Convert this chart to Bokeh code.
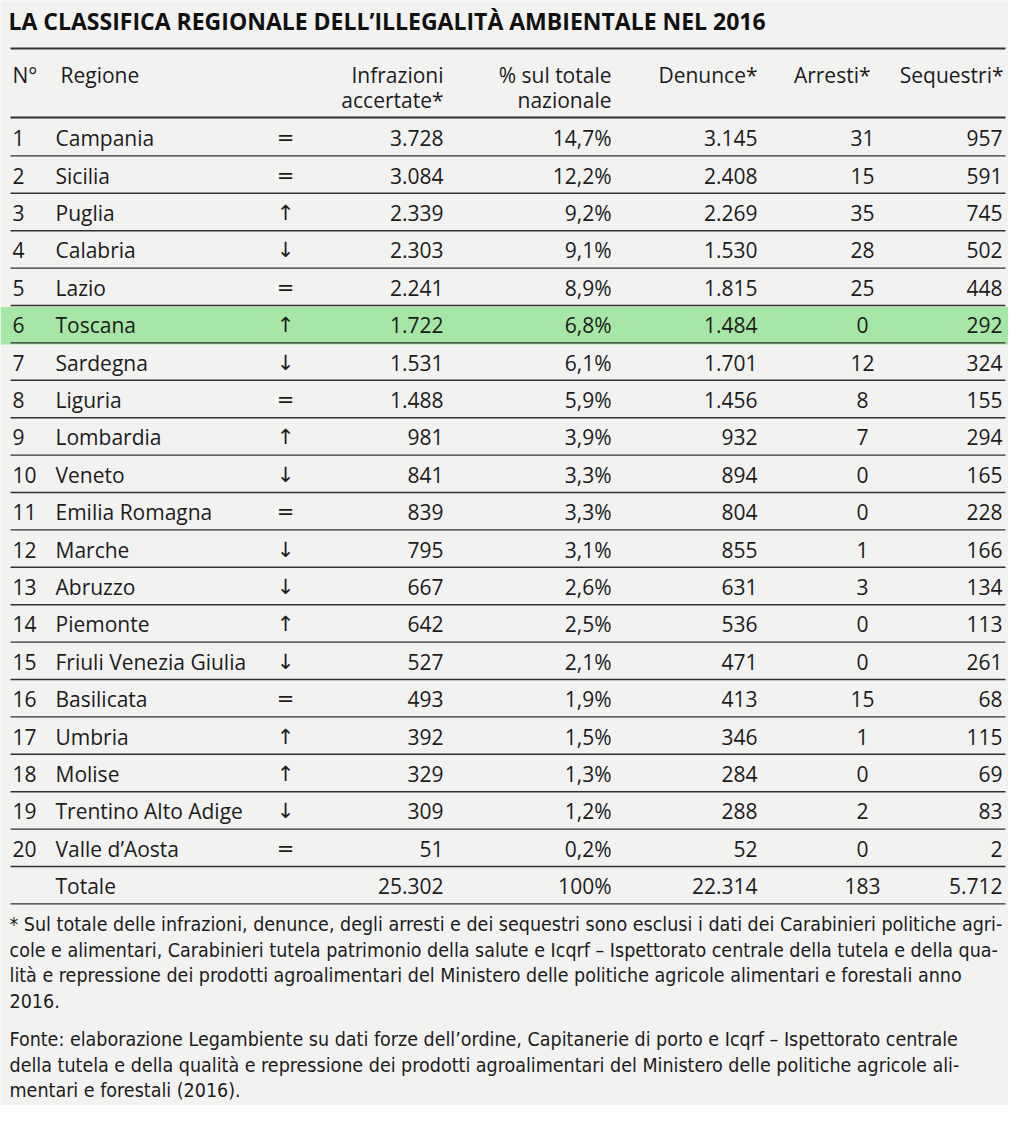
from bokeh.plotting import figure
from bokeh.models import Range1d, ColumnDataSource
from bokeh.core.properties import value
from bokeh.embed import file_html
from bokeh.resources import INLINE
import numpy as np

# ---------------- data ----------------
title = "LA CLASSIFICA REGIONALE DELL’ILLEGALITÀ AMBIENTALE NEL 2016"
header1 = ["N°", "Regione", "Infrazioni", "% sul totale", "Denunce*", "Arresti*", "Sequestri*"]
header2 = ["", "", "accertate*", "nazionale", "", "", ""]
ranks = list(range(1, 21))
regions = ["Campania", "Sicilia", "Puglia", "Calabria", "Lazio", "Toscana", "Sardegna",
           "Liguria", "Lombardia", "Veneto", "Emilia Romagna", "Marche", "Abruzzo",
           "Piemonte", "Friuli Venezia Giulia", "Basilicata", "Umbria", "Molise",
           "Trentino Alto Adige", "Valle d’Aosta"]
trends = ["=", "=", "↑", "↓", "=", "↑", "↓", "=", "↑", "↓", "=", "↓", "↓", "↑", "↓",
          "=", "↑", "↑", "↓", "="]
infrazioni = [3728, 3084, 2339, 2303, 2241, 1722, 1531, 1488, 981, 841, 839, 795, 667,
              642, 527, 493, 392, 329, 309, 51]
percentuale = [14.7, 12.2, 9.2, 9.1, 8.9, 6.8, 6.1, 5.9, 3.9, 3.3, 3.3, 3.1, 2.6, 2.5,
               2.1, 1.9, 1.5, 1.3, 1.2, 0.2]
denunce = [3145, 2408, 2269, 1530, 1815, 1484, 1701, 1456, 932, 894, 804, 855, 631, 536,
           471, 413, 346, 284, 288, 52]
arresti = [31, 15, 35, 28, 25, 0, 12, 8, 7, 0, 0, 1, 3, 0, 0, 15, 1, 0, 2, 0]
sequestri = [957, 591, 745, 502, 448, 292, 324, 155, 294, 165, 228, 166, 134, 113, 261,
             68, 115, 69, 83, 2]
totale_label = "Totale"
totale_infrazioni = 25302
totale_percentuale = 100
totale_denunce = 22314
totale_arresti = 183
totale_sequestri = 5712
highlight_region = "Toscana"

footnote = [
    "* Sul totale delle infrazioni, denunce, degli arresti e dei sequestri sono esclusi i dati dei Carabinieri politiche agri-",
    "cole e alimentari, Carabinieri tutela patrimonio della salute e Icqrf – Ispettorato centrale della tutela e della qua-",
    "lità e repressione dei prodotti agroalimentari del Ministero delle politiche agricole alimentari e forestali anno",
    "2016.",
]
source_note = [
    "Fonte: elaborazione Legambiente su dati forze dell’ordine, Capitanerie di porto e Icqrf – Ispettorato centrale",
    "della tutela e della qualità e repressione dei prodotti agroalimentari del Ministero delle politiche agricole ali-",
    "mentari e forestali (2016).",
]

# ---------------- formatting ----------------
def fmt_int(n):
    return f"{n:,}".replace(",", ".")

def fmt_pct(v):
    if float(v).is_integer() and v >= 100:
        return f"{int(v)}%"
    return f"{v:.1f}".replace(".", ",") + "%"

col_n = [str(r) for r in ranks] + [""]
col_reg = regions + [totale_label]
col_trend = trends + [""]
col_inf = [fmt_int(v) for v in infrazioni] + [fmt_int(totale_infrazioni)]
col_pct = [fmt_pct(v) for v in percentuale] + [fmt_pct(totale_percentuale)]
col_den = [fmt_int(v) for v in denunce] + [fmt_int(totale_denunce)]
col_arr = [str(v) for v in arresti] + [str(totale_arresti)]
col_seq = [fmt_int(v) for v in sequestri] + [fmt_int(totale_sequestri)]

# ---------------- layout ----------------
W, H = 1008, 1105
ROW0_TOP = 118.0
ROW_H = 37.4
n_rows = len(col_reg)
idx = np.arange(n_rows)
row_center = ROW0_TOP + ROW_H * (idx + 0.5) + 1
row_bottom = ROW0_TOP + ROW_H * (idx + 1)

FONT = value("Open Sans")
NARROW = value("'DejaVu Sans Condensed', 'Liberation Sans Narrow', 'Open Sans', sans-serif")
TXT = "#1c1c1c"
LINE = "#303030"
BG = "#f2f2f0"
FS = "21px"

p = figure(width=W, height=H, x_range=Range1d(0, W), y_range=Range1d(H, 0),
           output_backend="svg", toolbar_location=None, min_border=0,
           x_axis_location=None, y_axis_location=None)
p.grid.visible = False
p.outline_line_color = None
p.background_fill_color = BG
p.border_fill_color = BG

# highlight band
hi = regions.index(highlight_region)
p.quad(left=[0], right=[W], top=[ROW0_TOP + ROW_H * hi + 1.5],
       bottom=[ROW0_TOP + ROW_H * (hi + 1) + 1.5], fill_color="#a6e6a6",
       fill_alpha=1.0, line_color=None)

# title
p.text(x=[8], y=[20], text=[title], text_font=FONT, text_font_style="bold",
       text_font_size="23px", text_baseline="middle", text_align="left", text_color="#111111")

# rules
p.segment(x0=[10, 10], x1=[1005, 1005], y0=[48, 117], y1=[48, 117],
          line_color=LINE, line_width=2)
p.segment(x0=[10] * n_rows, x1=[1005] * n_rows, y0=list(row_bottom), y1=list(row_bottom),
          line_color=LINE, line_width=1.4)

# headers
hx = [12, 60, 443, 611, 757, 870, 1003]
ha = ["left", "left", "right", "right", "right", "right", "right"]
for x, a, t1, t2 in zip(hx, ha, header1, header2):
    p.text(x=[x], y=[74], text=[t1], text_font=FONT, text_font_size=FS,
           text_align=a, text_baseline="middle", text_color=TXT)
    if t2:
        p.text(x=[x], y=[99], text=[t2], text_font=FONT, text_font_size=FS,
               text_align=a, text_baseline="middle", text_color=TXT)

# body columns
cols = [
    (col_n, 12, "left", FONT, FS),
    (col_reg, 55, "left", FONT, FS),
    (col_trend, 285, "center", value("DejaVu Sans"), "21px"),
    (col_inf, 443, "right", FONT, FS),
    (col_pct, 611, "right", FONT, FS),
    (col_den, 757, "right", FONT, FS),
    (col_arr, 862, "center", FONT, FS),
    (col_seq, 1002, "right", FONT, FS),
]
for texts, x, a, f, fs in cols:
    src = ColumnDataSource(dict(x=[x] * n_rows, y=list(row_center), t=texts))
    p.text(x="x", y="y", text="t", source=src, text_font=f, text_font_size=fs,
           text_align=a, text_baseline="middle", text_color=TXT)

# notes
fy = [924, 949.5, 975, 1000.5]
p.text(x=[9] * len(footnote), y=fy, text=footnote, text_font=NARROW, text_font_size="19.5px",
       text_align="left", text_baseline="middle", text_color=TXT)
sy = [1039, 1064.5, 1090]
p.text(x=[9] * len(source_note), y=sy, text=source_note, text_font=NARROW,
       text_font_size="19.5px", text_align="left", text_baseline="middle", text_color=TXT)

open("out.html", "w").write(file_html(p, INLINE))
